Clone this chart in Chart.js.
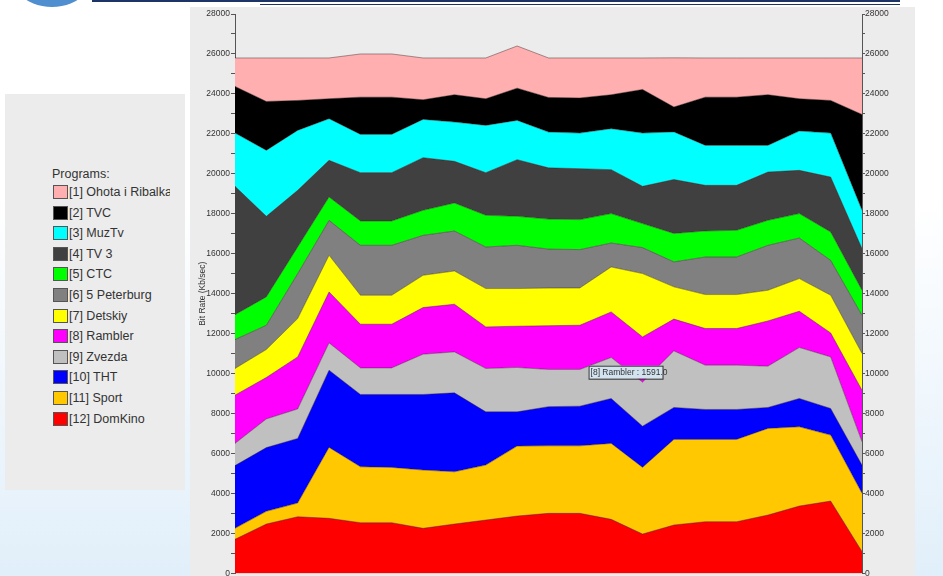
<!DOCTYPE html>
<html>
<head>
<meta charset="utf-8">
<script src="https://cdn.jsdelivr.net/npm/chart.js@4.4.1/dist/chart.umd.min.js"></script>
<style>
  html, body { margin: 0; padding: 0; width: 943px; height: 576px; overflow: hidden; }
  body {
    position: relative;
    font-family: "Liberation Sans", Arial, sans-serif;
    background: linear-gradient(to bottom, #ffffff 0%, #ffffff 35%, #e1effa 100%);
  }
  #dot { position: absolute; left: 2px; top: -93px; width: 100px; height: 100px; border-radius: 50%; background: #4f8fd0; }
  #rule1 { position: absolute; left: 92px; top: 0; width: 808px; height: 2px; background: #1c3566; }
  #rule2 { position: absolute; left: 260px; top: 3.5px; width: 640px; height: 1.5px; background: #1c3566; }
  #legendBox { position: absolute; left: 5px; top: 94px; width: 180px; height: 396px; background: #ececec; overflow: hidden; }
  #legendBox .head { position: absolute; left: 47px; top: 73px; font-size: 12.5px; color: #333; }
  #legendBox .row { position: absolute; left: 48px; width: 117px; overflow: hidden; height: 14px; white-space: nowrap; font-size: 12.5px; color: #333; line-height: 14px; }
  #legendBox .sw { display: inline-block; width: 13px; height: 12px; border: 1px solid #555; vertical-align: top; margin-right: 1px; }
  #panel { position: absolute; left: 190px; top: 7px; width: 725px; height: 600px; background: #ececec; }
</style>
</head>
<body>
<div id="dot"></div>
<div id="rule1"></div>
<div id="rule2"></div>
<div id="legendBox"><div class="head">Programs:</div></div>
<div id="panel"><canvas id="bitChart"></canvas></div>
<script>
// sample slots along the x axis (labels are not shown in the picture)
const slots = ['1', '2', '3', '4', '5', '6', '7', '8', '9', '10', '11',
               '12', '13', '14', '15', '16', '17', '18', '19', '20', '21'];

const programNames = ['[1] Ohota i Ribalka', '[2] TVC', '[3] MuzTv', '[4] TV 3', '[5] CTC',
                      '[6] 5 Peterburg', '[7] Detskiy', '[8] Rambler', '[9] Zvezda',
                      '[10] THT', '[11] Sport', '[12] DomKino'];
const programColors = ['#ffafaf', '#000000', '#00ffff', '#404040', '#00ff00', '#808080',
                       '#ffff00', '#ff00ff', '#c0c0c0', '#0000ff', '#ffc800', '#ff0000'];

// Kb/sec per program
const ohota     = [1425, 2175, 2125, 2040, 2160, 2160, 2090, 1840, 2040, 2110, 1975, 2000, 1840, 1575, 2460, 1960, 1960, 1840, 2040, 2125, 2825];
const tvc       = [2335, 2450, 1500, 1000, 1865, 1865, 985, 1370, 1335, 1615, 1735, 1760, 1700, 2185, 1250, 2415, 2415, 2535, 1620, 1635, 4800];
const muzTv     = [2665, 3300, 3000, 2085, 1915, 1915, 1915, 1965, 2365, 1965, 1790, 1780, 2050, 2665, 2380, 2000, 2000, 1335, 1965, 2200, 1915];
const tv3       = [6425, 4035, 2835, 1835, 2420, 2420, 2635, 2085, 2135, 2835, 2565, 2550, 2200, 1865, 2700, 2285, 2250, 2415, 2165, 2750, 2085];
const ctc       = [1240, 1415, 1330, 1165, 1215, 1215, 1250, 1400, 1585, 1450, 1500, 1500, 1470, 1200, 1420, 1300, 1335, 1250, 1220, 1415, 1250];
const peterburg = [1450, 1215, 2250, 1750, 2500, 2500, 2000, 2000, 2080, 2165, 1950, 1920, 1200, 1300, 1250, 1880, 1880, 2250, 2030, 1750, 1915];
const detskiy   = [1335, 1400, 1920, 1835, 1450, 1450, 1615, 1665, 1920, 1885, 1885, 1865, 2250, 3170, 1615, 1700, 1700, 1535, 1635, 1885, 1835];
const rambler   = [2415, 2075, 2605, 2550, 2185, 2185, 2335, 2385, 2080, 2065, 2190, 2215, 2280, 2265, 1591, 1835, 1835, 2265, 1815, 1200, 2585];
const zvezda    = [1110, 1435, 1475, 1365, 1330, 1330, 2015, 2050, 2170, 2220, 1860, 1835, 2050, 2200, 2830, 2215, 2215, 2065, 2550, 2580, 1165];
const tht       = [3140, 3190, 3235, 3865, 3620, 3650, 3785, 3950, 2665, 1715, 1960, 1985, 2250, 2065, 1600, 1500, 1500, 1050, 1420, 1335, 1415];
const sport     = [550, 635, 685, 3550, 2800, 2770, 2915, 2615, 2750, 3500, 3380, 3380, 3800, 3335, 4285, 4120, 4120, 4335, 3965, 3300, 2910];
const domKino   = [1710, 2475, 2840, 2760, 2540, 2540, 2260, 2475, 2675, 2875, 3010, 3010, 2710, 1975, 2425, 2590, 2590, 2925, 3375, 3625, 1100];

const programValues = [ohota, tvc, muzTv, tv3, ctc, peterburg, detskiy, rambler, zvezda, tht, sport, domKino];

// legend panel
const legendBox = document.getElementById('legendBox');
programNames.forEach(function (name, i) {
  const row = document.createElement('div');
  row.className = 'row';
  row.style.top = (91 + i * 20.6) + 'px';
  row.innerHTML = '<span class="sw" style="background:' + programColors[i] + '"></span>' + name;
  legendBox.appendChild(row);
});

// bottom of the stack first: DomKino ... Ohota
const datasets = [];
for (let i = programNames.length - 1; i >= 0; i--) {
  datasets.push({
    label: programNames[i],
    data: programValues[i],
    backgroundColor: programColors[i],
    borderColor: 'rgba(50,30,30,0.55)',
    borderWidth: 0.8,
    pointRadius: 0,
    tension: 0,
    fill: datasets.length === 0 ? 'origin' : '-1'
  });
}

const hoverNote = {
  id: 'hoverNote',
  afterDatasetsDraw(chart) {
    const ctx = chart.ctx;
    const x = chart.scales.x.getPixelForValue(13) - 54;
    const y = chart.scales.y.getPixelForValue(10400);
    ctx.save();
    ctx.fillStyle = '#d3e3f0';
    ctx.strokeStyle = '#333';
    ctx.lineWidth = 1;
    ctx.fillRect(x, y, 74, 13);
    ctx.strokeRect(x + 0.5, y + 0.5, 74, 13);
    ctx.fillStyle = '#333';
    ctx.font = '8.5px "Liberation Sans", Arial, sans-serif';
    ctx.textBaseline = 'middle';
    ctx.fillText('[8] Rambler : 1591.0', x + 2, y + 7);
    ctx.restore();
  }
};

const tickFont = { family: '"Liberation Sans", Arial, sans-serif', size: 8.5 };
function everyOther(v) { return v % 2000 === 0 ? v : ''; }

new Chart(document.getElementById('bitChart'), {
  type: 'line',
  data: { labels: slots, datasets: datasets },
  options: {
    responsive: true,
    maintainAspectRatio: false,
    animation: false,
    layout: { padding: { top: 7, bottom: 33.5, left: 0, right: 0 } },
    plugins: { legend: { display: false }, tooltip: { enabled: false } },
    scales: {
      x: { display: false, offset: false },
      y: {
        stacked: true,
        position: 'left',
        min: 0, max: 28000,
        afterFit(s) { s.width = 45; },
        ticks: { stepSize: 1000, autoSkip: false, callback: everyOther, padding: 1, color: '#333', font: tickFont },
        grid: { drawOnChartArea: false, drawTicks: true, tickLength: 4, color: '#555' },
        border: { display: true, color: '#555' },
        title: { display: true, text: 'Bit Rate (Kb/sec)', color: '#333', font: tickFont, padding: { top: 8, bottom: 0 } }
      },
      y1: {
        position: 'right',
        min: 0, max: 28000,
        afterFit(s) { s.width = 53; },
        ticks: { stepSize: 1000, autoSkip: false, callback: everyOther, padding: 0, color: '#333', font: tickFont },
        grid: { drawOnChartArea: false, drawTicks: true, tickLength: 3, color: '#555' },
        border: { display: true, color: '#555' }
      }
    }
  },
  plugins: [hoverNote]
});
</script>
</body>
</html>
